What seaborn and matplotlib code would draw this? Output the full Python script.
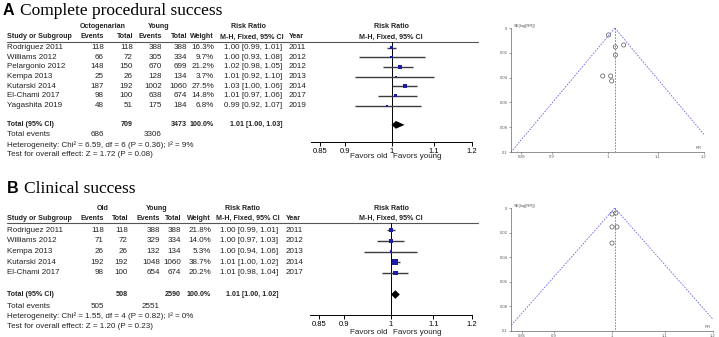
import numpy as np
import pandas as pd
import seaborn as sns
import matplotlib.pyplot as plt
from matplotlib.ticker import NullLocator

# ---- panel A: complete procedural success
studies_a = ['Rodriguez 2011', 'Williams 2012', 'Pelargonio 2012', 'Kempa 2013',
             'Kutarski 2014', 'El-Chami 2017', 'Yagashita 2019']
old_events_a = [118, 66, 148, 25, 187, 98, 48]
old_total_a = [118, 72, 150, 26, 192, 100, 51]
young_events_a = [388, 305, 670, 128, 1002, 638, 175]
young_total_a = [388, 334, 699, 134, 1060, 674, 184]
weight_a = [16.3, 9.7, 21.2, 3.7, 27.5, 14.8, 6.8]
rr_a = [1.00, 1.00, 1.02, 1.01, 1.03, 1.01, 0.99]
lo_a = [0.99, 0.93, 0.98, 0.92, 1.00, 0.97, 0.92]
hi_a = [1.01, 1.08, 1.05, 1.10, 1.06, 1.06, 1.07]
years_a = [2011, 2012, 2012, 2013, 2014, 2017, 2019]
total_a = [1.01, 1.00, 1.03]
totals_n_a = [709, 3473]
totals_ev_a = [686, 3306]
het_a = 'Heterogeneity: Chi\u00b2 = 6.59, df = 6 (P = 0.36); I\u00b2 = 9%'
test_a = 'Test for overall effect: Z = 1.72 (P = 0.08)'
funnel_rr_a = [1.002, 1.031, 1.015, 1.015, 0.991, 1.006, 1.008]
funnel_se_a = [0.0056, 0.0137, 0.0153, 0.0218, 0.0387, 0.0387, 0.0427]
funnel_center_a = 1.014

# ---- panel B: clinical success
studies_b = ['Rodriguez 2011', 'Williams 2012', 'Kempa 2013', 'Kutarski 2014', 'El-Chami 2017']
old_events_b = [118, 71, 26, 192, 98]
old_total_b = [118, 72, 26, 192, 100]
young_events_b = [388, 329, 132, 1048, 654]
young_total_b = [388, 334, 134, 1060, 674]
weight_b = [21.8, 14.0, 5.3, 38.7, 20.2]
rr_b = [1.00, 1.00, 1.00, 1.01, 1.01]
lo_b = [0.99, 0.97, 0.94, 1.00, 0.98]
hi_b = [1.01, 1.03, 1.06, 1.02, 1.04]
years_b = [2011, 2012, 2013, 2014, 2017]
total_b = [1.01, 1.00, 1.02]
totals_n_b = [508, 2590]
totals_ev_b = [505, 2551]
het_b = 'Heterogeneity: Chi\u00b2 = 1.55, df = 4 (P = 0.82); I\u00b2 = 0%'
test_b = 'Test for overall effect: Z = 1.20 (P = 0.23)'
funnel_rr_b = [1.000, 1.007, 1.000, 1.009, 1.000]
funnel_se_b = [0.0049, 0.0041, 0.0154, 0.0154, 0.0285]
funnel_center_b = 1.005

tick_vals = [0.85, 0.9, 1, 1.1, 1.2]
tick_labs = ['0.85', '0.9', '1', '1.1', '1.2']

sns.set_style('white')
plt.rcParams['font.family'] = ['Liberation Sans', 'DejaVu Sans']

W, H = 719, 337
fig = plt.figure(figsize=(W / 100, H / 100), dpi=100)
bg = fig.add_axes([0, 0, 1, 1])
bg.set_xlim(0, W)
bg.set_ylim(H, 0)
bg.axis('off')

FS = 5.8     # regular table text
FB = 5.1     # bold table text (the original bold face is narrow)
TC = '#222222'


def px_axes(l, r, t, b):
    return fig.add_axes([l / W, 1 - b / H, (r - l) / W, (b - t) / H])


def txt(x, y, s, ha='left', bold=False):
    bg.text(x, y, s, ha=ha, va='center', fontsize=FB if bold else FS, color=TC,
            fontweight='bold' if bold else 'normal')


def panel(letter, title, ty, lx, group, lay, col, d):
    bg.text(lx, ty, letter, fontsize=11.5, fontweight='bold', va='baseline', color='black')
    bg.text(lx + 17, ty, title, fontsize=12.5, family='Liberation Serif', va='baseline', color='black')

    # headers
    txt(col['g1'], lay['h1'], group, ha='center', bold=True)
    txt(col['g2'], lay['h1'], 'Young', ha='center', bold=True)
    txt(col['rrh'], lay['h1'], 'Risk Ratio', ha='center', bold=True)
    txt(391, lay['h1'], 'Risk Ratio', ha='center', bold=True)
    txt(col['name'], lay['h2'], 'Study or Subgroup', bold=True)
    txt(col['oe'], lay['h2'], 'Events', ha='right', bold=True)
    txt(col['ot'], lay['h2'], 'Total', ha='right', bold=True)
    txt(col['ye'], lay['h2'], 'Events', ha='right', bold=True)
    txt(col['yt'], lay['h2'], 'Total', ha='right', bold=True)
    txt(col['w'], lay['h2'], 'Weight', ha='right', bold=True)
    txt(col['cih'], lay['h2'], 'M-H, Fixed, 95% CI', ha='center', bold=True)
    txt(col['year'], lay['h2'], 'Year', bold=True)
    txt(391, lay['h2'], 'M-H, Fixed, 95% CI', ha='center', bold=True)
    bg.plot([7, 478], [lay['line'], lay['line']], color='#555555', lw=0.8)

    n = len(d['study'])
    for i in range(n):
        y = lay['y0'] + lay['step'] * i
        txt(col['name'], y, d['study'][i])
        txt(col['oe'], y, str(d['oe'][i]), ha='right')
        txt(col['ot'], y, str(d['ot'][i]), ha='right')
        txt(col['ye'], y, str(d['ye'][i]), ha='right')
        txt(col['yt'], y, str(d['yt'][i]), ha='right')
        txt(col['w'], y, f"{d['w'][i]:.1f}%", ha='right')
        txt(col['ci'], y, f"{d['rr'][i]:.2f} [{d['lo'][i]:.2f}, {d['hi'][i]:.2f}]", ha='right')
        txt(col['year'], y, str(d['year'][i]))
    yt = lay['y0'] + lay['step'] * (n + 1)
    tot = d['total']
    txt(col['name'], yt, 'Total (95% CI)', bold=True)
    txt(col['ot'], yt, str(d['tn'][0]), ha='right', bold=True)
    txt(col['yt'], yt, str(d['tn'][1]), ha='right', bold=True)
    txt(col['w'], yt, '100.0%', ha='right', bold=True)
    txt(col['ci'], yt, f"{tot[0]:.2f} [{tot[1]:.2f}, {tot[2]:.2f}]", ha='right', bold=True)
    txt(col['name'], lay['ev'], 'Total events')
    txt(col['oe'], lay['ev'], str(d['tev'][0]), ha='right')
    txt(col['ye'], lay['ev'], str(d['tev'][1]), ha='right')
    txt(col['name'], lay['het'], d['het'])
    txt(col['name'], lay['test'], d['test'])

    # forest plot
    l, r, t, b = lay['forest']
    ax = px_axes(l, r, t, b)
    ax.set_xscale('log')
    ax.set_xlim(1 / 1.2, 1.2)
    df = pd.DataFrame({'rr': d['rr'], 'row': np.arange(n), 'w': d['w'],
                       'lo': d['lo'], 'hi': d['hi']})
    for _, row in df.iterrows():
        ax.plot([row['lo'], row['hi']], [row['row'], row['row']], color='#3c3c3c',
                lw=1.0, zorder=2, solid_capstyle='butt')
    sns.scatterplot(data=df, x='rr', y='row', size='w', sizes=(0, lay['smax']),
                    size_norm=(0, max(d['w'])), marker='s', color='#1c1ca6',
                    edgecolor='none', legend=False, zorder=3, ax=ax)
    ti = n + 1
    ax.fill([tot[1], tot[0], tot[2], tot[0]], [ti, ti - 0.4, ti, ti + 0.4],
            color='black', lw=0, zorder=3)
    ax.axvline(1, color='black', lw=0.7, zorder=1)
    ax.set_xlim(1 / 1.2, 1.2)
    ax.set_ylim((b - lay['y0']) / lay['step'], (t - lay['y0']) / lay['step'])
    ax.set_xticks(tick_vals)
    ax.set_xticklabels(tick_labs)
    ax.xaxis.set_minor_locator(NullLocator())
    ax.set_yticks([])
    ax.set_xlabel('')
    ax.set_ylabel('')
    for s in ['top', 'right', 'left']:
        ax.spines[s].set_visible(False)
    ax.spines['bottom'].set_color('black')
    ax.spines['bottom'].set_linewidth(0.7)
    ax.tick_params(axis='x', bottom=True, length=3, width=0.7, pad=1, labelsize=5.5,
                   colors='black', direction='out')
    ax.patch.set_alpha(0)
    txt(387, lay['fav'], 'Favors old', ha='right')
    txt(393, lay['fav'], 'Favors young')

    # funnel plot
    l, r, t, b = lay['funnel']
    fx = px_axes(l, r, t, b)
    se = np.linspace(0, 0.1, 60)
    c = d['fc']
    kw = dict(color='#6a6ae0', lw=0.6, ls=(0, (2, 1.5)))
    fx.plot(c * np.exp(-1.96 * se), se, **kw)
    fx.plot(c * np.exp(1.96 * se), se, **kw)
    fx.plot([c, c], [0, 0.1], **kw)
    sns.scatterplot(x=d['frr'], y=d['fse'], marker='o', s=9, facecolors='none',
                    edgecolors='#555555', linewidth=0.5, ax=fx)
    fx.set_xscale('log')
    fx.set_xlim(1 / 1.2, 1.2)
    fx.set_ylim(0.1, 0)
    fx.set_xticks(tick_vals)
    fx.set_xticklabels(tick_labs)
    fx.xaxis.set_minor_locator(NullLocator())
    fx.set_yticks([0, 0.02, 0.04, 0.06, 0.08, 0.1])
    fx.set_yticklabels(['0', '0.02', '0.04', '0.06', '0.08', '0.1'])
    for s in ['top', 'right']:
        fx.spines[s].set_visible(False)
    for s in ['left', 'bottom']:
        fx.spines[s].set_color('#666666')
        fx.spines[s].set_linewidth(0.5)
    fx.tick_params(length=1.5, width=0.4, pad=1, labelsize=3, colors='#555555',
                   left=True, bottom=True)
    fx.patch.set_alpha(0)
    fx.text(0.015, 1.0, 'SE(log[RR])', transform=fx.transAxes, fontsize=3,
            color='#555555', va='bottom')
    fx.text(0.99, 0.02, 'RR', transform=fx.transAxes, fontsize=3,
            color='#555555', ha='right', va='bottom')
    fx.set_xlabel('')
    fx.set_ylabel('')


data_a = dict(study=studies_a, oe=old_events_a, ot=old_total_a, ye=young_events_a,
              yt=young_total_a, w=weight_a, rr=rr_a, lo=lo_a, hi=hi_a, year=years_a,
              total=total_a, tn=totals_n_a, tev=totals_ev_a, het=het_a, test=test_a,
              frr=funnel_rr_a, fse=funnel_se_a, fc=funnel_center_a)
data_b = dict(study=studies_b, oe=old_events_b, ot=old_total_b, ye=young_events_b,
              yt=young_total_b, w=weight_b, rr=rr_b, lo=lo_b, hi=hi_b, year=years_b,
              total=total_b, tn=totals_n_b, tev=totals_ev_b, het=het_b, test=test_b,
              frr=funnel_rr_b, fse=funnel_se_b, fc=funnel_center_b)

lay_a = dict(h1=27, h2=37, line=42, y0=47.5, step=9.67, ev=135, het=145, test=154.5,
             forest=(311, 472, 42, 142), fav=157, funnel=(511, 704, 28, 152), smax=8.5)
col_a = dict(name=7, g1=103, g2=159, rrh=248, oe=104, ot=133, ye=162, yt=187, w=214,
             ci=282, cih=252, year=289)
lay_b = dict(h1=208, h2=218, line=223, y0=230, step=10.75, ev=306, het=316, test=326,
             forest=(310, 472, 223, 315), fav=332, funnel=(511, 713, 208, 331), smax=18)
col_b = dict(name=7, g1=103, g2=157, rrh=242, oe=104, ot=128, ye=160, yt=181, w=211,
             ci=278, cih=248, year=286)

panel('A', 'Complete procedural success', 15, 3, 'Octogenarian', lay_a, col_a, data_a)
panel('B', 'Clinical success', 193, 7, 'Old', lay_b, col_b, data_b)

fig.savefig('out.png', dpi=100)
